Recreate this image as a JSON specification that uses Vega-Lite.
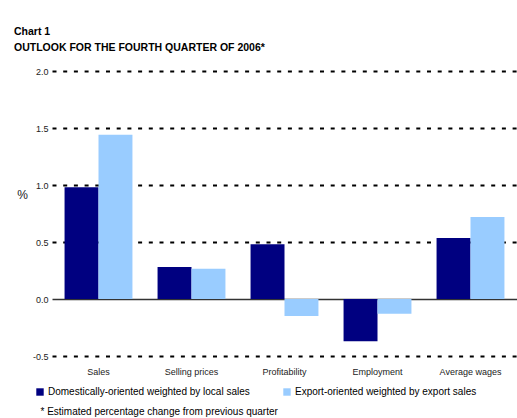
{
  "$schema": "https://vega.github.io/schema/vega-lite/v6.json",
  "width": 465,
  "height": 285,
  "autosize": {"type": "none"},
  "padding": {"left": 52, "top": 71, "right": 0, "bottom": 62},
  "background": "white",
  "title": {
    "text": ["Chart 1", "OUTLOOK FOR THE FOURTH QUARTER OF 2006*"],
    "anchor": "start",
    "frame": "group",
    "orient": "top",
    "dx": -38,
    "offset": 14,
    "font": "Liberation Sans",
    "fontSize": 10.5,
    "fontWeight": "bold",
    "lineHeight": 16,
    "color": "black"
  },
  "data": {
    "values": [
      {"cat": "Sales", "series": "Domestically-oriented weighted by local sales", "value": 0.98},
      {"cat": "Sales", "series": "Export-oriented weighted by export sales", "value": 1.44},
      {"cat": "Selling prices", "series": "Domestically-oriented weighted by local sales", "value": 0.28},
      {"cat": "Selling prices", "series": "Export-oriented weighted by export sales", "value": 0.265},
      {"cat": "Profitability", "series": "Domestically-oriented weighted by local sales", "value": 0.48},
      {"cat": "Profitability", "series": "Export-oriented weighted by export sales", "value": -0.15},
      {"cat": "Employment", "series": "Domestically-oriented weighted by local sales", "value": -0.37},
      {"cat": "Employment", "series": "Export-oriented weighted by export sales", "value": -0.13},
      {"cat": "Average wages", "series": "Domestically-oriented weighted by local sales", "value": 0.535},
      {"cat": "Average wages", "series": "Export-oriented weighted by export sales", "value": 0.72}
    ]
  },
  "mark": {"type": "bar"},
  "encoding": {
    "x": {
      "field": "cat",
      "type": "nominal",
      "sort": ["Sales", "Selling prices", "Profitability", "Employment", "Average wages"],
      "scale": {"paddingInner": 0.27, "paddingOuter": 0.135},
      "axis": {
        "labelAngle": 0,
        "domain": false,
        "ticks": false,
        "tickSize": 0,
        "labelPadding": 11,
        "labelFontSize": 9,
        "labelColor": "#222",
        "title": "* Estimated percentage change from previous quarter",
        "titleX": -12,
        "titleY": 58,
        "titleAlign": "left",
        "titleAnchor": "start",
        "titleBaseline": "alphabetic",
        "titleFontSize": 10,
        "titleFontWeight": "normal",
        "titleColor": "black"
      }
    },
    "xOffset": {
      "field": "series",
      "type": "nominal",
      "sort": ["Domestically-oriented weighted by local sales", "Export-oriented weighted by export sales"],
      "scale": {"paddingInner": 0, "paddingOuter": 0}
    },
    "y": {
      "field": "value",
      "type": "quantitative",
      "scale": {"domain": [-0.5, 2.0], "nice": false, "zero": false},
      "axis": {
        "values": [-0.5, 0, 0.5, 1, 1.5, 2],
        "labelExpr": "replace(format(datum.value, '.1f'), '\u2212', '-')",
        "grid": true,
        "gridColor": {"condition": {"test": "datum.value === 0", "value": "#333"}, "value": "black"},
        "gridDash": {"condition": {"test": "datum.value === 0", "value": []}, "value": [4, 6.7]},
        "gridWidth": {"condition": {"test": "datum.value === 0", "value": 1.6}, "value": 2.2},
        "domain": false,
        "ticks": false,
        "tickSize": 0,
        "labelPadding": 4,
        "labelFontSize": 9,
        "labelColor": "#222",
        "title": "%",
        "titleAngle": 0,
        "titleX": -30,
        "titleY": 130,
        "titleAlign": "center",
        "titleFontSize": 12,
        "titleFontWeight": "normal",
        "titleColor": "#222"
      }
    },
    "color": {
      "field": "series",
      "type": "nominal",
      "scale": {
        "domain": ["Domestically-oriented weighted by local sales", "Export-oriented weighted by export sales"],
        "range": ["#000080", "#99ccff"]
      },
      "legend": {
        "orient": "none",
        "legendX": -17,
        "legendY": 316,
        "direction": "horizontal",
        "title": null,
        "symbolType": "square",
        "symbolSize": 55,
        "symbolStrokeWidth": 0,
        "labelFontSize": 10,
        "labelColor": "black",
        "labelLimit": 400,
        "labelOffset": 3,
        "columnPadding": 32
      }
    }
  },
  "config": {
    "font": "Liberation Sans",
    "view": {"stroke": null}
  }
}
